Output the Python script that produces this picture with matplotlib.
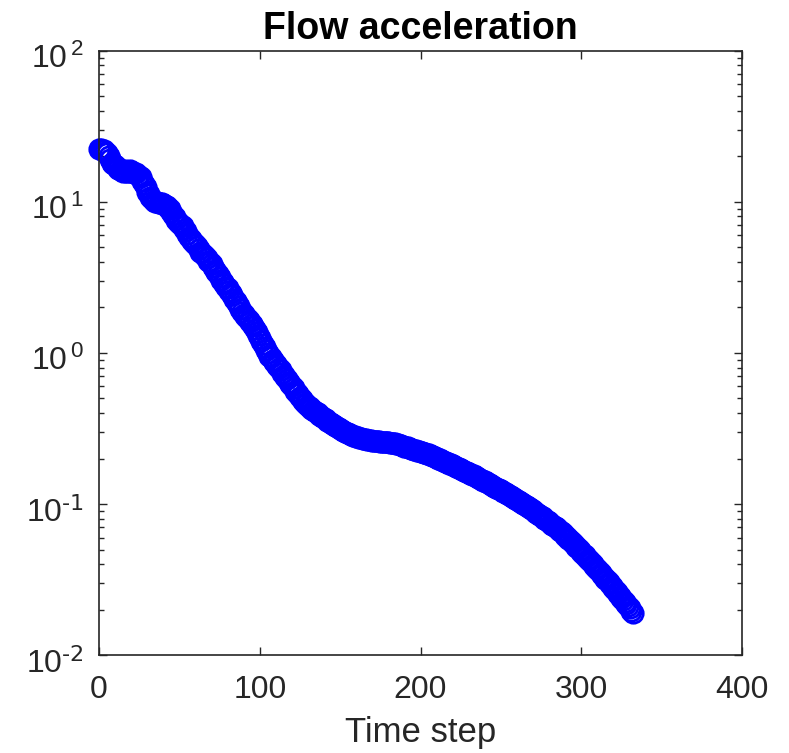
import numpy as np
import matplotlib
matplotlib.use("Agg")
import matplotlib.pyplot as plt
from matplotlib.ticker import LogLocator, NullFormatter
from matplotlib.transforms import ScaledTranslation

plt.rcParams['font.family'] = ['Liberation Sans', 'DejaVu Sans']
plt.rcParams['mathtext.default'] = 'regular'

# flow acceleration per time step
accel = [
    22.4, 22.4, 22.2, 21.9, 21.4, 20.9, 20.0, 19.1, 18.2, 17.8,
    17.4, 17.0, 16.6, 16.2, 16.2, 15.8, 16.2, 15.8, 15.8, 16.2,
    15.8, 15.8, 15.5, 15.5, 15.1, 14.8, 14.5, 13.8, 13.2, 12.6,
    11.7, 11.2, 10.7, 10.5, 10.2, 10.0, 10.0, 9.90, 9.77, 9.77,
    9.66, 9.55, 9.33, 9.12, 8.91, 8.51, 8.13, 7.94, 7.59, 7.41,
    7.24, 7.08, 6.92, 6.61, 6.46, 6.17, 5.89, 5.69, 5.50, 5.37,
    5.25, 5.13, 4.90, 4.68, 4.57, 4.47, 4.37, 4.22, 4.07, 3.98,
    3.85, 3.72, 3.55, 3.43, 3.31, 3.16, 3.05, 2.95, 2.85, 2.75,
    2.69, 2.57, 2.48, 2.40, 2.29, 2.21, 2.14, 2.04, 1.95, 1.88,
    1.82, 1.76, 1.70, 1.66, 1.60, 1.55, 1.50, 1.45, 1.38, 1.32,
    1.26, 1.20, 1.15, 1.10, 1.05, 1.00, 0.955, 0.933, 0.902, 0.871,
    0.851, 0.822, 0.794, 0.767, 0.741, 0.716, 0.692, 0.668, 0.646, 0.624,
    0.603, 0.582, 0.562, 0.543, 0.531, 0.513, 0.495, 0.479, 0.468, 0.457,
    0.447, 0.437, 0.427, 0.422, 0.412, 0.407, 0.398, 0.389, 0.385, 0.376,
    0.372, 0.363, 0.355, 0.351, 0.345, 0.339, 0.335, 0.329, 0.324, 0.318,
    0.314, 0.309, 0.304, 0.301, 0.297, 0.294, 0.290, 0.287, 0.284, 0.281,
    0.279, 0.277, 0.275, 0.273, 0.271, 0.269, 0.268, 0.266, 0.265, 0.264,
    0.263, 0.262, 0.262, 0.261, 0.260, 0.259, 0.258, 0.257, 0.257, 0.256,
    0.256, 0.255, 0.254, 0.253, 0.252, 0.251, 0.248, 0.247, 0.244, 0.243,
    0.240, 0.239, 0.237, 0.235, 0.233, 0.231, 0.229, 0.228, 0.226, 0.224,
    0.222, 0.220, 0.219, 0.217, 0.215, 0.213, 0.211, 0.208, 0.207, 0.205,
    0.203, 0.200, 0.198, 0.196, 0.194, 0.191, 0.189, 0.187, 0.185, 0.183,
    0.181, 0.178, 0.176, 0.174, 0.172, 0.170, 0.168, 0.166, 0.164, 0.162,
    0.160, 0.158, 0.156, 0.155, 0.153, 0.151, 0.149, 0.147, 0.145, 0.143,
    0.141, 0.139, 0.137, 0.136, 0.134, 0.132, 0.130, 0.128, 0.126, 0.125,
    0.123, 0.121, 0.120, 0.118, 0.116, 0.115, 0.113, 0.111, 0.110, 0.108,
    0.107, 0.105, 0.103, 0.102, 0.100, 0.0989, 0.0973, 0.0955, 0.0938, 0.0923,
    0.0906, 0.0889, 0.0875, 0.0859, 0.0843, 0.0830, 0.0815, 0.0800, 0.0785, 0.0771,
    0.0757, 0.0743, 0.0730, 0.0716, 0.0703, 0.0690, 0.0678, 0.0665, 0.0649, 0.0634,
    0.0618, 0.0604, 0.0589, 0.0575, 0.0561, 0.0548, 0.0535, 0.0522, 0.0508, 0.0495,
    0.0482, 0.0470, 0.0457, 0.0446, 0.0434, 0.0423, 0.0411, 0.0401, 0.0390, 0.0379,
    0.0369, 0.0359, 0.0349, 0.0340, 0.0330, 0.0321, 0.0313, 0.0304, 0.0296, 0.0287,
    0.0279, 0.0270, 0.0262, 0.0254, 0.0247, 0.0239, 0.0232, 0.0225, 0.0218, 0.0211,
    0.0204, 0.0197, 0.0191,
]
steps = np.arange(len(accel))

xticks = [0, 100, 200, 300, 400]
yticks = [1e-2, 1e-1, 1e0, 1e1, 1e2]
ylabels = [r'$10^{\text{-2}}$', r'$10^{\text{-1}}$', r'$10^{\,0}$', r'$10^{\,1}$', r'$10^{\,2}$']

axcol = (0.15, 0.15, 0.15)

fig = plt.figure(figsize=(7.89, 7.53), dpi=100)
ax = fig.add_axes([0.1255, 0.130, 0.815, 0.8026])

ax.plot(steps, accel, 'o', markersize=14, markerfacecolor='none',
        markeredgecolor=(0, 0, 1), markeredgewidth=2.0, clip_on=False)

ax.set_yscale('log')
ax.set_xlim(0, 400)
ax.set_ylim(1e-2, 1e2)
ax.set_xticks(xticks)
ax.set_yticks(yticks)
ax.set_yticklabels(ylabels)
ax.yaxis.set_minor_locator(LogLocator(base=10, subs=np.arange(2, 10), numticks=20))
ax.yaxis.set_minor_formatter(NullFormatter())

for s in ax.spines.values():
    s.set_linewidth(1.2)
    s.set_color(axcol)

ax.tick_params(which='both', direction='in', top=True, right=True,
               colors=axcol, labelcolor=axcol, width=1.0)
ax.tick_params(which='major', length=6, labelsize=23)
ax.tick_params(which='minor', length=3.5)
ax.tick_params(axis='x', pad=14)
ax.tick_params(axis='y', pad=11)

# MATLAB puts the exponent labels a little lower than matplotlib does
shift = ScaledTranslation(0, -0.05, fig.dpi_scale_trans)
for lab in ax.get_yticklabels():
    lab.set_transform(lab.get_transform() + shift)

ax.set_title("Flow acceleration", fontsize=27, fontweight='bold', pad=8.5)
ax.set_xlabel("Time step", fontsize=25, color=axcol, labelpad=8)

fig.savefig("out.png", dpi=100)
